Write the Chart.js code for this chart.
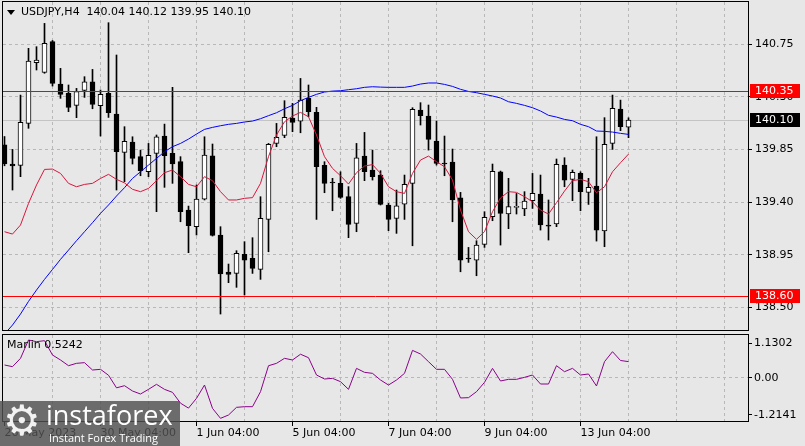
<!DOCTYPE html>
<html lang="en">
<head>
<meta charset="UTF-8">
<title>USDJPY H4</title>
<script src="https://cdn.jsdelivr.net/npm/chart.js@4"></script>
<style>
    body {
        margin: 0;
        width: 805px;
        height: 446px;
        overflow: hidden;
        position: relative;
        background: #e7e7e7;
        font-family: "DejaVu Sans", sans-serif;
    }

    canvas {
        position: absolute;
        left: 0;
    }

    #main { top: 0; }
    #marlin { top: 333px; }

    .txt {
        position: absolute;
        font-size: 11px;
        line-height: 13px;
        color: #000;
        white-space: pre;
    }

    #tri {
        position: absolute;
        left: 7px;
        top: 10px;
        width: 0;
        height: 0;
        border-left: 4px solid transparent;
        border-right: 4px solid transparent;
        border-top: 5px solid #000;
    }

    #title { left: 21px; top: 5px; }
    #ind-name { left: 7px; top: 338px; }

    #logo {
        position: absolute;
        left: 0;
        top: 401px;
        width: 180px;
        height: 45px;
        background: rgba(80, 80, 80, 0.82);
        color: #fff;
    }

    #logo .gear {
        position: absolute;
        left: 3px;
        top: -4px;
        font-size: 42px;
        line-height: 48px;
        color: #f2f2f2;
    }

    #logo .brand {
        position: absolute;
        left: 46px;
        top: -1px;
        font-family: "Open Sans", sans-serif;
        font-size: 27px;
        line-height: 30px;
    }

    #logo .slogan {
        position: absolute;
        left: 49px;
        top: 30px;
        font-family: "Open Sans", sans-serif;
        font-size: 11px;
        line-height: 13px;
    }
</style>
</head>
<body>

<canvas id="main" width="805" height="332"></canvas>
<canvas id="marlin" width="805" height="113"></canvas>

<div id="tri"></div>
<div id="title" class="txt"></div>
<div id="ind-name" class="txt"></div>

<div id="logo">
    <span class="gear">⚙</span>
    <span class="brand">instaforex</span>
    <span class="slogan">Instant Forex Trading</span>
</div>

<script>
    // USDJPY H4, one entry per bar, 26 May 04:00 .. 14 Jun 04:00
    const opens = [
        139.890, 139.725, 139.713, 140.072, 140.590, 140.508, 140.770, 140.408, 140.328, 140.226,
        140.354, 140.428, 140.223, 140.328, 140.152, 139.825, 139.913, 139.788, 139.659, 139.816,
        139.964, 139.816, 139.745, 139.332, 139.190, 139.426, 139.796, 139.119, 138.803, 138.791,
        138.953, 138.919, 138.825, 139.252, 139.901, 139.970, 140.118, 140.092, 140.286, 140.166,
        139.713, 139.566, 139.560, 139.446, 139.218, 139.793, 139.674, 139.631, 139.375, 139.261,
        139.383, 139.560, 140.186, 140.135, 139.921, 139.731, 139.742, 139.437, 138.919, 138.905,
        139.039, 139.275, 139.659, 139.298, 139.355, 139.341, 139.412, 139.469, 139.201, 139.213,
        139.716, 139.594, 139.645, 139.483, 139.537, 139.153, 139.901, 140.195, 140.04
    ];
    const highs = [
        139.960, 139.850, 140.314, 140.713, 140.727, 140.926, 140.780, 140.542, 140.400, 140.371,
        140.471, 140.533, 140.357, 140.932, 140.656, 140.044, 139.958, 139.844, 139.901, 139.973,
        140.066, 140.380, 139.788, 139.366, 139.546, 139.958, 139.896, 139.190, 138.871, 138.985,
        139.062, 139.096, 139.446, 139.901, 140.072, 140.266, 140.243, 140.456, 140.400, 140.209,
        139.745, 139.603, 139.659, 139.532, 139.901, 139.995, 139.844, 139.668, 139.389, 139.503,
        139.631, 140.206, 140.249, 140.229, 140.092, 139.964, 139.853, 139.483, 139.013, 139.070,
        139.318, 139.725, 139.665, 139.603, 139.474, 139.489, 139.645, 139.631, 139.418, 139.768,
        139.779, 139.674, 139.659, 139.603, 139.958, 140.121, 140.314, 140.271, 140.12
    ];
    const lows = [
        139.710, 139.503, 139.617, 140.030, 140.528, 140.500, 140.391, 140.286, 140.172, 140.121,
        140.294, 140.197, 139.964, 140.123, 139.503, 139.574, 139.725, 139.625, 139.617, 139.318,
        139.526, 139.560, 139.232, 138.968, 139.119, 139.418, 139.110, 138.444, 138.712, 138.672,
        138.606, 138.791, 138.740, 138.976, 139.873, 139.950, 140.001, 139.992, 140.129, 139.252,
        139.480, 139.326, 139.432, 139.096, 139.147, 139.583, 139.588, 139.375, 139.156, 139.133,
        139.252, 139.027, 140.058, 139.844, 139.716, 139.625, 139.232, 138.805, 138.885, 138.771,
        139.013, 139.241, 139.033, 139.173, 139.298, 139.284, 139.346, 139.161, 139.076, 139.190,
        139.531, 139.412, 139.326, 139.380, 139.067, 139.019, 139.850, 140.010, 139.95
    ];
    const closes = [
        139.725, 139.708, 140.081, 140.604, 140.613, 140.755, 140.414, 140.320, 140.209, 140.343,
        140.428, 140.234, 140.320, 140.163, 139.830, 139.918, 139.773, 139.668, 139.799, 139.958,
        139.796, 139.725, 139.318, 139.198, 139.426, 139.802, 139.116, 138.786, 138.783, 138.962,
        138.905, 138.834, 139.261, 139.893, 139.953, 140.123, 140.081, 140.271, 140.172, 139.702,
        139.560, 139.563, 139.440, 139.210, 139.779, 139.659, 139.617, 139.380, 139.252, 139.369,
        139.551, 140.192, 140.138, 139.936, 139.731, 139.725, 139.418, 138.905, 138.914, 139.033,
        139.269, 139.662, 139.304, 139.361, 139.355, 139.409, 139.474, 139.204, 139.195, 139.722,
        139.588, 139.654, 139.489, 139.526, 139.161, 139.893, 140.200, 140.044, 140.10
    ];

    // red (fast) and blue (slow) moving averages
    const fastMA = [
        139.147, 139.127, 139.204, 139.389, 139.546, 139.679, 139.682, 139.645, 139.560, 139.531,
        139.551, 139.560, 139.602, 139.637, 139.594, 139.564, 139.509, 139.489, 139.517, 139.583,
        139.651, 139.674, 139.617, 139.551, 139.531, 139.617, 139.583, 139.489, 139.418, 139.418,
        139.432, 139.438, 139.560, 139.788, 139.973, 140.086, 140.135, 140.166, 140.129, 139.973,
        139.788, 139.688, 139.625, 139.554, 139.651, 139.708, 139.720, 139.645, 139.531, 139.489,
        139.474, 139.645, 139.759, 139.793, 139.745, 139.702, 139.588, 139.332, 139.147, 139.082,
        139.147, 139.318, 139.435, 139.489, 139.483, 139.446, 139.403, 139.332, 139.298, 139.395,
        139.494, 139.583, 139.594, 139.574, 139.480, 139.531, 139.659, 139.736, 139.810
    ];
    const slowMA = [
        138.273, 138.350, 138.444, 138.552, 138.649, 138.740, 138.825, 138.911, 138.990, 139.070,
        139.147, 139.224, 139.304, 139.375, 139.452, 139.523, 139.602, 139.659, 139.716, 139.773,
        139.830, 139.873, 139.901, 139.938, 139.981, 140.021, 140.038, 140.052, 140.064, 140.072,
        140.084, 140.092, 140.112, 140.138, 140.163, 140.197, 140.226, 140.266, 140.294, 140.320,
        140.340, 140.348, 140.351, 140.360, 140.368, 140.380, 140.385, 140.382, 140.380, 140.380,
        140.380, 140.391, 140.408, 140.417, 140.417, 140.405, 140.388, 140.363, 140.345, 140.334,
        140.320, 140.306, 140.289, 140.257, 140.243, 140.226, 140.206, 140.178, 140.141, 140.126,
        140.106, 140.095, 140.064, 140.044, 140.007, 140.004, 139.998, 139.987, 139.978
    ];

    const marlin = [
        0.414, 0.359, 0.631, 1.228, 1.174, 1.206, 0.739, 0.577, 0.392, 0.468,
        0.490, 0.251, 0.273, 0.080, -0.330, -0.260, -0.433, -0.531, -0.379, -0.216,
        -0.379, -0.477, -0.830, -0.990, -0.672, -0.238, -0.998, -1.323, -1.215, -0.965,
        -0.944, -0.944, -0.455, 0.390, 0.468, 0.631, 0.577, 0.765, 0.652, 0.088,
        -0.042, -0.021, -0.129, -0.379, 0.305, 0.175, 0.142, -0.075, -0.238, -0.075,
        0.142, 0.890, 0.772, 0.522, 0.273, 0.273, -0.053, -0.660, -0.650, -0.455,
        -0.151, 0.305, -0.107, -0.053, -0.053, 0.012, 0.088, -0.205, -0.205, 0.392,
        0.196, 0.305, 0.088, 0.121, -0.270, 0.522, 0.848, 0.560, 0.5242
    ];

    const priceTicks = [138.50, 138.95, 139.40, 139.85, 140.30, 140.75];
    const marlinTicks = [-1.2141, 0, 1.1302];
    const levels = [140.35, 138.60];
    const timeIdx = [0, 12, 24, 36, 48, 60, 72];
    const timeText = ['26 May 2023', '30 May 04:00', '1 Jun 04:00', '5 Jun 04:00',
        '7 Jun 04:00', '9 Jun 04:00', '13 Jun 04:00'];

    const last = closes.length - 1;
    document.getElementById('title').textContent =
        'USDJPY,H4  ' + [opens[last], highs[last], lows[last], closes[last]].map(v => v.toFixed(2)).join(' ');
    document.getElementById('ind-name').textContent = 'Marlin ' + marlin[last].toFixed(4);

    Chart.defaults.font.family = '"DejaVu Sans", sans-serif';
    Chart.defaults.font.size = 11;
    Chart.defaults.color = '#000';

    const gridColor = '#b8b8b8';
    const pts = arr => arr.map((v, i) => ({ x: i, y: v }));

    function timeAxis(withLabels) {
        return {
            type: 'linear',
            min: -0.1875,
            max: 92.9375,
            offset: false,
            afterBuildTicks: s => {
                s.ticks = [];
                for (let v = 0; v <= 90; v += 6) s.ticks.push({ value: v });
            },
            grid: {
                offset: false,
                color: c => (c.tick && c.tick.value === 0) ? 'rgba(0,0,0,0)' : gridColor,
                drawTicks: withLabels,
                tickLength: 5,
                tickColor: c => (c.tick && timeIdx.includes(c.tick.value)) ? '#000' : 'rgba(0,0,0,0)'
            },
            border: { display: false, dash: [3, 3] },
            ticks: {
                display: withLabels,
                autoSkip: false,
                maxRotation: 0,
                align: 'start',
                padding: 1,
                callback: v => {
                    const k = timeIdx.indexOf(v);
                    return k < 0 ? '' : timeText[k];
                }
            },
            afterFit: s => {
                s.height = withLabels ? 25 : 0;
                s.paddingLeft = 0;
                s.paddingRight = 0;
            }
        };
    }

    function valueAxis(min, max, values, fmt, pad, gridFn) {
        return {
            type: 'linear',
            position: 'right',
            min: min,
            max: max,
            afterBuildTicks: s => { s.ticks = values.map(v => ({ value: v })); },
            grid: { color: gridFn, tickLength: 4, tickColor: '#000' },
            border: { display: false, dash: [3, 3] },
            ticks: { padding: pad, callback: fmt },
            afterFit: s => {
                s.width = 57;
                s.paddingTop = 0;
                s.paddingBottom = 0;
            }
        };
    }

    const frame = {
        id: 'frame',
        afterDraw(chart) {
            const a = chart.chartArea, ctx = chart.ctx;
            ctx.save();
            ctx.strokeStyle = '#000';
            ctx.lineWidth = 1;
            ctx.strokeRect(a.left - 0.5, a.top - 0.5, a.right - a.left + 1, a.bottom - a.top + 1);
            ctx.restore();
        }
    };

    function hLine(chart, value, color) {
        const a = chart.chartArea, ctx = chart.ctx;
        const y = Math.round(chart.scales.y.getPixelForValue(value)) + 0.5;
        ctx.save();
        ctx.strokeStyle = color;
        ctx.lineWidth = 1;
        ctx.beginPath();
        ctx.moveTo(a.left, y);
        ctx.lineTo(a.right, y);
        ctx.stroke();
        ctx.restore();
    }

    function priceBox(chart, value, color) {
        const a = chart.chartArea, ctx = chart.ctx;
        const y = Math.round(chart.scales.y.getPixelForValue(value));
        ctx.save();
        ctx.fillStyle = color;
        ctx.fillRect(a.right + 2, y - 7, 50, 14);
        ctx.fillStyle = '#fff';
        ctx.font = '11px "DejaVu Sans"';
        ctx.textBaseline = 'middle';
        ctx.fillText(value.toFixed(2), a.right + 7, y + 0.5);
        ctx.restore();
    }

    const priceLines = {
        id: 'priceLines',
        beforeDatasetsDraw(chart) {
            hLine(chart, closes[last], '#c4c4c4');
        },
        afterDatasetsDraw(chart) {
            levels.forEach(v => hLine(chart, v, '#ff0000'));
        },
        afterDraw(chart) {
            levels.forEach(v => priceBox(chart, v, '#ff0000'));
            priceBox(chart, closes[last], '#000');
        }
    };

    new Chart(document.getElementById('main'), {
        type: 'bar',
        data: {
            datasets: [
                {
                    type: 'line',
                    data: pts(fastMA),
                    borderColor: '#dc143c',
                    borderWidth: 1,
                    pointRadius: 0,
                    tension: 0,
                    order: 0
                },
                {
                    type: 'line',
                    data: pts(slowMA),
                    borderColor: '#0000ff',
                    borderWidth: 1,
                    pointRadius: 0,
                    tension: 0,
                    order: 0
                },
                {
                    data: opens.map((o, i) => ({ x: i, y: [o, closes[i]] })),
                    backgroundColor: c => (c.dataIndex !== undefined && closes[c.dataIndex] >= opens[c.dataIndex]) ? '#ffffff' : '#000000',
                    borderColor: '#000',
                    borderWidth: 1,
                    borderSkipped: false,
                    barThickness: 5,
                    minBarLength: 1,
                    grouped: false,
                    order: 1
                },
                {
                    data: lows.map((l, i) => ({ x: i, y: [l, highs[i]] })),
                    backgroundColor: '#000',
                    borderWidth: 0,
                    barThickness: 1,
                    grouped: false,
                    order: 2
                }
            ]
        },
        options: {
            responsive: false,
            devicePixelRatio: 1,
            animation: false,
            layout: { padding: { left: 3, top: 2, right: 0, bottom: 2 } },
            plugins: { legend: { display: false }, tooltip: { enabled: false } },
            scales: {
                x: timeAxis(false),
                y: valueAxis(138.3077, 141.1087, priceTicks, v => v.toFixed(2), 3, () => gridColor)
            }
        },
        plugins: [priceLines, frame]
    });

    new Chart(document.getElementById('marlin'), {
        type: 'line',
        data: {
            datasets: [{
                data: pts(marlin),
                borderColor: '#8b008b',
                borderWidth: 1,
                pointRadius: 0,
                tension: 0
            }]
        },
        options: {
            responsive: false,
            devicePixelRatio: 1,
            animation: false,
            layout: { padding: { left: 3, top: 2, right: 0, bottom: 0 } },
            plugins: { legend: { display: false }, tooltip: { enabled: false } },
            scales: {
                x: timeAxis(true),
                y: valueAxis(-1.410, 1.391, marlinTicks,
                    v => v === 0 ? '0.00' : String(v), 2,
                    c => (c.tick && c.tick.value === 0) ? gridColor : 'rgba(0,0,0,0)')
            }
        },
        plugins: [frame]
    });
</script>
</body>
</html>
